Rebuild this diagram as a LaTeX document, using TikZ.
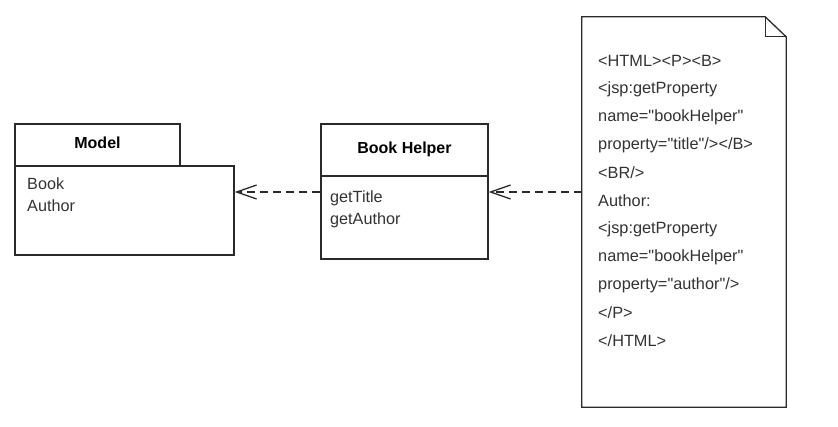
\documentclass[tikz,border=0pt]{standalone}
\usepackage{fontspec}
\setmainfont{Liberation Sans}[Ligatures=TeXOff]
\usetikzlibrary{arrows.meta}
\definecolor{ln}{HTML}{2A2A2A}
\definecolor{tx}{HTML}{333333}
\tikzset{
  box/.style={draw=ln, line width=1.3pt, fill=white, inner sep=0pt, minimum width=#1},
  ttl/.style={font=\fontsize{16}{18}\selectfont\bfseries, text=black},
  attr/.style={font=\fontsize{16.2}{18}\selectfont, text=tx, anchor=west, inner sep=0pt},
  code/.style={font=\fontsize{16.3}{18}\selectfont, text=tx, anchor=west, inner sep=0pt},
  dep/.style={draw=ln, line width=1.3pt, dash pattern=on 8pt off 5pt, -{Straight Barb[length=20pt,width=14pt,line width=1.3pt]}}
}
\begin{document}
\begin{tikzpicture}[x=1pt,y=-1pt]
\useasboundingbox (0,0) rectangle (838,427);
% Model
\node[box=219pt, minimum height=89pt] (modelbody) at (124.5,210.5) {};
\node[box=165pt, minimum height=42pt] (modeltab) at (97.5,145) {};
\node[ttl] (modeltitle) at (97.5,143) {Model};
\node[attr] (book) at (27,184) {Book};
\node[attr] (author) at (27,206) {Author};
% Book Helper
\node[box=167pt, minimum height=52pt] (helperhead) at (404.5,150) {};
\node[box=167pt, minimum height=83pt] (helperbody) at (404.5,217.5) {};
\node[ttl] (helpertitle) at (404.5,149) {Book Helper};
\node[attr] (gettitle) at (330,198) {getTitle};
\node[attr] (getauthor) at (330,220) {getAuthor};
% Document
\node[minimum width=204pt, minimum height=390pt, inner sep=0pt] (doc) at (684,212) {};
\draw[ln, line width=1.3pt, fill=white]
  (doc.south west) -- (doc.north west) -- ([xshift=-21pt]doc.north east)
  -- ([yshift=-20pt]doc.north east) -- (doc.south east) -- cycle;
\draw[ln, line width=1.3pt]
  ([xshift=-21pt]doc.north east) -- ([xshift=-21pt,yshift=-20pt]doc.north east)
  -- ([yshift=-20pt]doc.north east);
\node[code] (c1) at (598,61) {<HTML><P><B>};
\node[code] (c2) at (598,89) {<jsp:getProperty};
\node[code] (c3) at (598,117) {name="bookHelper"};
\node[code] (c4) at (598,145) {property="title"/></B>};
\node[code] (c5) at (598,173) {<BR/>};
\node[code] (c6) at (598,201) {Author:};
\node[code] (c7) at (598,229) {<jsp:getProperty};
\node[code] (c8) at (598,257) {name="bookHelper"};
\node[code] (c9) at (598,285) {property="author"/>};
\node[code] (c10) at (598,313) {</P>};
\node[code] (c11) at (598,341) {</HTML>};
% connectors
\coordinate (ay) at (0,192);
\draw[dep] (helperbody.west |- ay) -- (modelbody.east |- ay);
\draw[dep] (doc.west |- ay) -- (helperbody.east |- ay);
\end{tikzpicture}
\end{document}
